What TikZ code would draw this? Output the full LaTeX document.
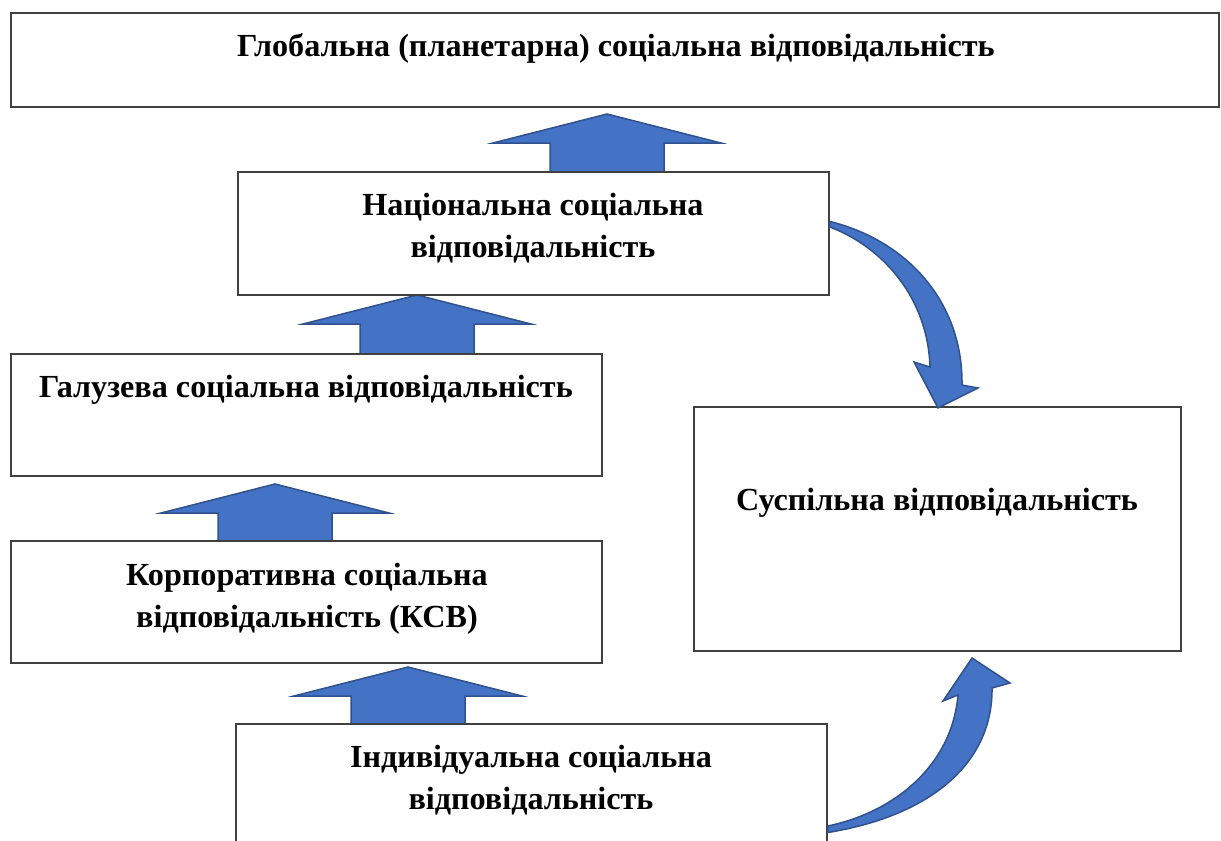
\documentclass[tikz,border=0pt]{standalone}
\usepackage{fontspec}
\setmainfont{Liberation Serif}
\usetikzlibrary{positioning}
\definecolor{pfeilblau}{HTML}{4472C4}
\definecolor{pfeilrand}{HTML}{2F528F}
\definecolor{kastenrand}{HTML}{404040}
\tikzset{
  kasten/.style={draw=kastenrand, line width=0.35mm, fill=white, rectangle, inner sep=0pt},
  titel/.style={align=center, font=\fontsize{18.3}{24}\selectfont\bfseries, inner sep=0pt},
  pfeil/.style={draw=pfeilrand, line width=0.3mm, fill=pfeilblau, line join=miter}
}
% Blockpfeil nach oben: Spitze bei (#1,#2)
\newcommand{\blockpfeil}[2]{%
  \draw[pfeil] (#1,#2) -- (#1+114,#2+29) -- (#1+57,#2+29) -- (#1+57,#2+62)
    -- (#1-57,#2+62) -- (#1-57,#2+29) -- (#1-114,#2+29) -- cycle;}
\begin{document}
\begin{tikzpicture}[x=0.2mm,y=-0.2mm]
  \clip (0,0) rectangle (1221,841);
  \fill[white] (0,0) rectangle (1221,841);

  % Pfeile zwischen den Ebenen
  \blockpfeil{607}{114}
  \blockpfeil{417}{295}
  \blockpfeil{275}{484}
  \blockpfeil{408}{667}

  % Kaesten
  \node[kasten, minimum width=241.6mm, minimum height=18.8mm] (glob) at (615,60) {};
  \node[kasten, minimum width=118.2mm, minimum height=24.6mm] (nat) at (533.5,233.5) {};
  \node[kasten, minimum width=118.2mm, minimum height=24.4mm] (gal) at (306.5,415) {};
  \node[kasten, minimum width=118.2mm, minimum height=24.4mm] (korp) at (306.5,602) {};
  \node[kasten, minimum width=118.2mm, minimum height=26mm] (ind) at (531.5,789) {};
  \node[kasten, minimum width=97.4mm, minimum height=48.8mm] (susp) at (937.5,529) {};

  % Beschriftung
  \node[titel] (globT) at (616,48) {Глобальна (планетарна) соціальна відповідальність};
  \node[titel] (natT) at (533,228) {Національна соціальна\\відповідальність};
  \node[titel] (galT) at (306,390) {Галузева соціальна відповідальність};
  \node[titel] (korpT) at (307,599) {Корпоративна соціальна\\відповідальність (КСВ)};
  \node[titel] (indT) at (531,780) {Індивідуальна соціальна\\відповідальність};
  \node[titel] (suspT) at (937,503) {Суспільна відповідальність};

  % Gebogene Pfeile
  \coordinate (natR) at (nat.east |- 0,224);
  \coordinate (indR) at (ind.east |- 0,829);
  \draw[pfeil] ([yshift=0.5mm]natR) .. controls (905,240) and (963,300) .. (962,385)
    -- (978,388) -- (938,408) -- (914,362) -- (930,367)
    .. controls (928,300) and (885,248) .. ([yshift=-0.6mm]natR) -- cycle;
  \draw[pfeil] ([yshift=-0.7mm]indR) .. controls (935,815) and (993,760) .. (992,688)
    -- (1010,683) -- (972,658) -- (943,701) -- (958,695)
    .. controls (952,765) and (895,812) .. ([yshift=0.6mm]indR) -- cycle;
\end{tikzpicture}
\end{document}
